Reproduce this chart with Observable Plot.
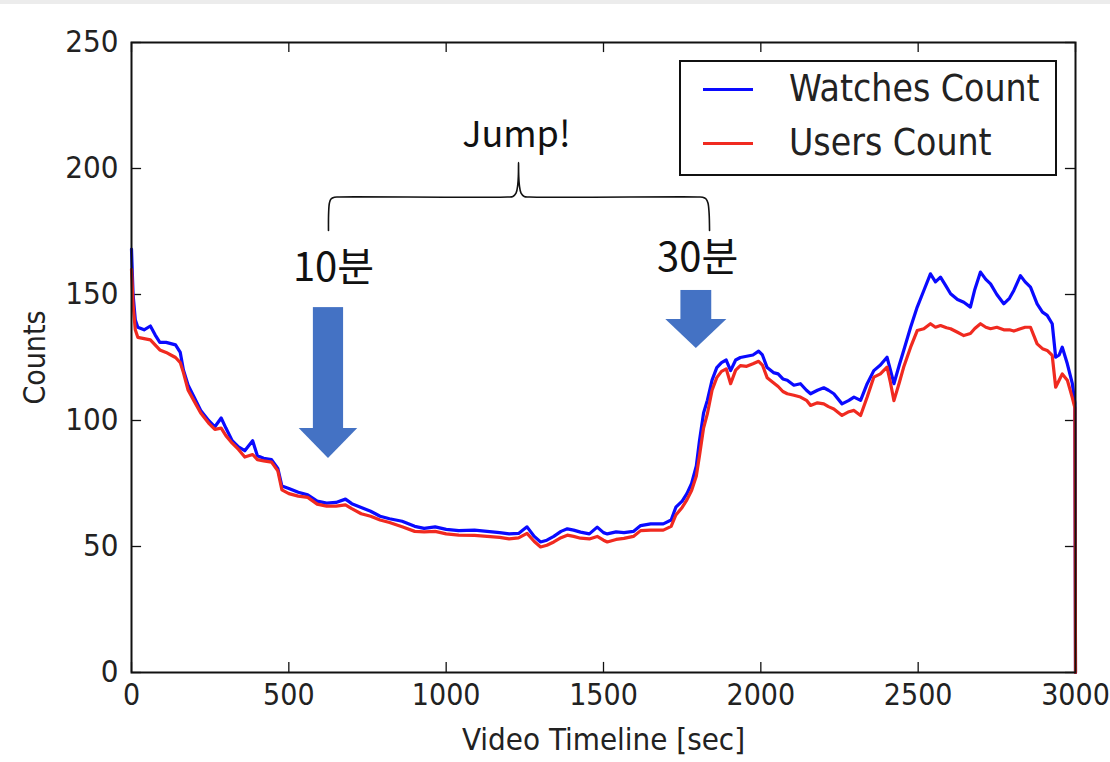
<!DOCTYPE html>
<html>
<head>
<meta charset="utf-8">
<script src="https://cdn.jsdelivr.net/npm/d3@7"></script>
<script src="https://cdn.jsdelivr.net/npm/@observablehq/plot@0.6"></script>
<style>
  html, body { margin: 0; padding: 0; background: #fff; }
  #wrap { position: relative; width: 1110px; height: 762px; overflow: hidden; }
  #band { position: absolute; left: 0; top: 0; width: 1110px; height: 4px; background: #ececec; }
  #legend { position: absolute; left: 679px; top: 60px; width: 374px; height: 112px; border: 2px solid #111; background: #fff;
    font-family: "DejaVu Sans Condensed", "DejaVu Sans", sans-serif; font-stretch: condensed; font-size: 37px; color: #222; }
  .row { position: absolute; left: 0; height: 40px; }
  .swatch { position: absolute; left: 22px; width: 50px; height: 3px; }
  .lab { position: absolute; left: 108px; white-space: nowrap; line-height: 40px; }
</style>
</head>
<body>
<div id="wrap">
  <div id="chart"></div>
  <div id="band"></div>
  <div id="legend"></div>
</div>
<script>
// ---- data ----
const timeSec = [0, 5, 12, 20, 40, 60, 75, 90, 110, 125, 140, 155, 165, 180, 200, 220, 245, 265, 285, 300,
  320, 340, 360, 385, 400, 420, 445, 465, 478, 500, 530, 560, 590, 620, 650, 680, 700, 730, 760, 790,
  820, 860, 900, 930, 965, 1000, 1040, 1090, 1130, 1170, 1200, 1230, 1257, 1280, 1300, 1320, 1342, 1365, 1385, 1405,
  1427, 1455, 1480, 1500, 1512, 1540, 1565, 1595, 1618, 1650, 1690, 1715, 1730, 1750, 1765, 1780, 1795, 1805, 1818, 1830,
  1845, 1860, 1875, 1890, 1904, 1920, 1935, 1955, 1975, 1993, 2005, 2020, 2040, 2055, 2070, 2084, 2105, 2126, 2145, 2158,
  2180, 2200, 2215, 2232, 2258, 2280, 2296, 2317, 2338, 2359, 2380, 2401, 2412, 2423, 2440, 2454, 2476, 2497, 2518, 2539,
  2555, 2571, 2590, 2603, 2625, 2645, 2666, 2680, 2698, 2715, 2730, 2750, 2772, 2790, 2804, 2825, 2840, 2857, 2878, 2895,
  2910, 2926, 2937, 2948, 2958, 2974, 2990, 2998, 3000];

const watchesCount = [168, 150, 140, 137, 136, 137.5, 134, 131, 131, 130.5, 130, 127, 120, 114, 109, 104, 100, 97.5, 101, 97,
  92, 89.5, 88, 92, 86, 85, 84.5, 81, 74, 73, 71.5, 70.5, 68, 67.2, 67.5, 68.8, 67, 65.5, 64, 62,
  61, 60, 58, 57.2, 57.8, 56.8, 56.3, 56.5, 56, 55.5, 55, 55.2, 57.8, 54, 51.8, 52.5, 54, 56, 57, 56.5,
  55.7, 55, 57.7, 55.5, 55, 55.8, 55.5, 56, 58.3, 59, 59, 60.5, 65.6, 68, 71, 75, 82, 92, 103, 108,
  116, 121, 123, 124, 119.8, 124, 125, 125.5, 126, 127.5, 126, 121, 119, 118.5, 116.5, 116, 114, 114.6, 112, 110.6,
  112, 113, 112, 110.6, 106.6, 108, 109.3, 108, 114.6, 119.8, 122, 125.1, 120, 114.6, 122, 127.8, 137, 145, 151.6, 158.2,
  155, 156.9, 153, 150.3, 148, 146.9, 145, 152, 158.9, 156, 154.2, 150, 146.3, 148.5, 151.6, 157.5, 155, 152.9, 146.3, 143,
  141.7, 138.4, 125.1, 126, 129.1, 122.5, 114.6, 107, 0];

const usersCount = [160, 146, 136, 133, 132.5, 132, 130, 128, 127, 126, 125, 123, 119, 112, 107.5, 103, 99, 96.5, 97, 94,
  91, 88.5, 85.5, 86.5, 84.5, 84, 83.5, 80, 72.5, 71, 70, 69.5, 66.8, 66, 66, 66.5, 65, 63, 62, 60.5,
  59.5, 57.8, 56, 55.8, 56, 55, 54.5, 54.4, 54, 53.6, 53, 53.4, 55.2, 52, 49.8, 50.5, 51.8, 53.5, 54.5, 54,
  53.3, 53, 54, 52.5, 51.8, 52.8, 53.2, 54, 56.3, 56.5, 56.5, 58, 62.5, 65.5, 68.5, 72.2, 78, 86, 97, 102.6,
  112, 117, 119.5, 120.5, 114.6, 120, 121.8, 121.5, 122.5, 123.5, 122, 117, 115, 113.5, 111.5, 110.6, 110, 109.3, 108, 106,
  107, 106.6, 105.5, 104.6, 102, 103.5, 104, 102, 109.3, 117.2, 118.5, 121.2, 115, 107.9, 115, 121.2, 129.1, 135.7, 136.4, 138.4,
  137, 137.7, 136.8, 136.4, 135, 133.7, 134.5, 136.5, 138.4, 137, 136.4, 137, 136, 136, 135.5, 136.4, 137, 137, 130.4, 128.5,
  127.8, 125.8, 113.2, 116, 118.5, 116, 109, 105, 0];

const seriesNames = ["Watches Count", "Users Count"];
const seriesColors = ["#0a0aff", "#f02a20"];

const xTicks = [0, 500, 1000, 1500, 2000, 2500, 3000];
const yTicks = [0, 50, 100, 150, 200, 250];
const xLabel = "Video Timeline [sec]";
const yLabel = "Counts";

// annotations (data coordinates)
const noteText = ["Jump!", "10분", "30분"];
const noteX = [1223, 642, 1799];
const noteY = [213, 160.3, 164.3];
const noteSize = [36, 40, 40];

const arrowX = [626, 1795];        // tip x
const arrowTipY = [84.9, 128.6];
const arrowHeadBaseY = [96.8, 140.1];
const arrowShaftTopY = [144.8, 151.6];
const arrowShaftHalf = [48, 49];
const arrowHeadHalf = [93, 97];

const braceX = [626, 626.5, 629, 634, 645, 660, 1195, 1212, 1222, 1227.5, 1229.5, 1230, 1230.5, 1232.5, 1238, 1248, 1265,
  1800, 1815, 1826, 1832, 1835.5, 1837];
const braceY = [175.4, 182.5, 186.3, 187.9, 188.6, 188.7, 188.7, 188.9, 190.2, 193.5, 197.5, 202.4, 197.5, 193.5, 190.2, 188.9, 188.7,
  188.7, 188.6, 187.9, 186.3, 182.5, 175.4];

// ---- build tables ----
const lineData = [];
seriesNames.forEach((name, si) => {
  const vals = si === 0 ? watchesCount : usersCount;
  timeSec.forEach((t, i) => lineData.push({t, v: vals[i], s: name}));
});
const shafts = arrowX.map((x, i) => ({x1: x - arrowShaftHalf[i], x2: x + arrowShaftHalf[i], y1: arrowHeadBaseY[i] - 0.3, y2: arrowShaftTopY[i]}));
const heads = [];
arrowX.forEach((x, i) => {
  heads.push({a: i, x: x - arrowHeadHalf[i], lo: arrowHeadBaseY[i], hi: arrowHeadBaseY[i]});
  heads.push({a: i, x: x, lo: arrowTipY[i], hi: arrowHeadBaseY[i]});
  heads.push({a: i, x: x + arrowHeadHalf[i], lo: arrowHeadBaseY[i], hi: arrowHeadBaseY[i]});
});
const brace = braceX.map((x, i) => ({x, y: braceY[i]}));
const notes = noteText.map((t, i) => ({t, x: noteX[i], y: noteY[i], fs: noteSize[i]}));

const tickFont = "'DejaVu Sans Condensed', 'DejaVu Sans', sans-serif";
const arrowFill = "#4472c4";

const chart = Plot.plot({
  width: 1110,
  height: 762,
  marginLeft: 131,
  marginRight: 35,
  marginTop: 42,
  marginBottom: 90,
  style: {background: "#fff", fontFamily: tickFont, fontStretch: "condensed"},
  x: {domain: [0, 3000]},
  y: {domain: [0, 250]},
  color: {domain: seriesNames, range: seriesColors},
  marks: [
    Plot.axisX({ticks: xTicks, tickFormat: d => String(d), tickSize: 0, tickPadding: 11, fontSize: 30, color: "#222", label: null}),
    Plot.axisY({ticks: yTicks, tickFormat: d => String(d), tickSize: 0, tickPadding: 13, fontSize: 31, color: "#222", label: null}),
    Plot.text([xLabel], {frameAnchor: "bottom", dy: 77, text: d => d, fontSize: 31, fill: "#222"}),
    Plot.text([yLabel], {frameAnchor: "left", dx: -96, rotate: -90, textAnchor: "middle", text: d => d, fontSize: 30, fill: "#222"}),
    // inward ticks on all four sides
    Plot.ruleX(xTicks, {x: d => d, y1: 0, y2: 4, stroke: "#111", strokeWidth: 1.3}),
    Plot.ruleX(xTicks, {x: d => d, y1: 250, y2: 246, stroke: "#111", strokeWidth: 1.3}),
    Plot.ruleY(yTicks, {y: d => d, x1: 0, x2: 32, stroke: "#111", strokeWidth: 1.3}),
    Plot.ruleY(yTicks, {y: d => d, x1: 3000, x2: 2968, stroke: "#111", strokeWidth: 1.3}),
    // series
    Plot.line(lineData, {x: "t", y: "v", z: "s", stroke: "s", strokeWidth: 3.2, strokeLinejoin: "round"}),
    // annotations
    Plot.rect(shafts, {x1: "x1", x2: "x2", y1: "y1", y2: "y2", fill: arrowFill}),
    Plot.areaY(heads, {x: "x", y1: "lo", y2: "hi", z: "a", fill: arrowFill}),
    Plot.line(brace, {x: "x", y: "y", curve: "catmull-rom", stroke: "#111", strokeWidth: 1.6}),
    Plot.text(notes, {x: "x", y: "y", text: "t", fontSize: "fs", fontFamily: "'Noto Sans CJK KR', sans-serif", fill: "#111"}),
    Plot.frame({stroke: "#111", strokeWidth: 2})
  ]
});
document.getElementById("chart").appendChild(chart);

// legend built from the same series names/colours
const legend = document.getElementById("legend");
const rowTops = [7, 61];
seriesNames.forEach((name, i) => {
  const row = document.createElement("div");
  row.className = "row";
  row.style.top = rowTops[i] + "px";
  row.style.width = "100%";
  const sw = document.createElement("div");
  sw.className = "swatch";
  sw.style.background = seriesColors[i];
  sw.style.top = "19px";
  const lab = document.createElement("div");
  lab.className = "lab";
  lab.textContent = name;
  lab.style.top = "0px";
  row.appendChild(sw);
  row.appendChild(lab);
  legend.appendChild(row);
});
</script>
</body>
</html>
